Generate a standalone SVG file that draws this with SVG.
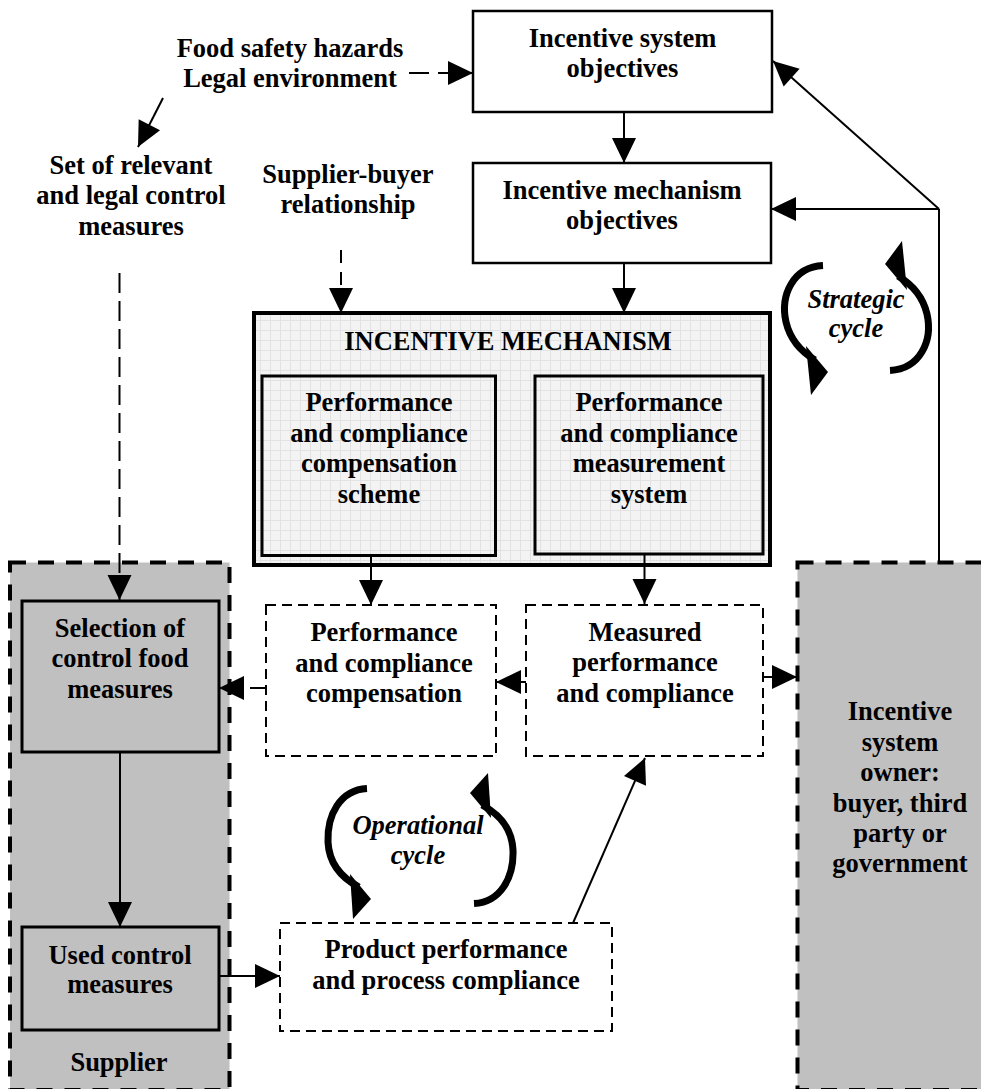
<svg xmlns="http://www.w3.org/2000/svg" width="981" height="1089" viewBox="0 0 981 1089">
  <style>
    text { font-family: "Liberation Serif", "Times New Roman", serif; font-weight: bold; font-size: 26.5px; fill: #000; text-anchor: middle; }
    .it { font-style: italic; }
    .box { fill: #fff; stroke: #000; stroke-width: 2.5; }
    .gray { fill: #c0c0c0; stroke: #000; stroke-width: 3; }
    .inner { fill: none; stroke: #000; stroke-width: 3; }
    .dbox { fill: #fff; stroke: #000; stroke-width: 2; stroke-dasharray: 10 6; }
    .zone { fill: #c0c0c0; stroke: #000; stroke-width: 4; stroke-dasharray: 16 12; }
    .ln { fill: none; stroke: #000; stroke-width: 2; }
    .dash { stroke-dasharray: 20 9; }
    .arr { marker-end: url(#head); }
    .cyc { fill: none; stroke: #000; stroke-width: 7; }
  </style>
  <defs>
    <marker id="head" markerUnits="userSpaceOnUse" markerWidth="26" markerHeight="24" refX="25" refY="12" orient="auto" overflow="visible">
      <path d="M0,0 L25,12 L0,24 Z" fill="#000" stroke="none"/>
    </marker>
    <pattern id="grid" patternUnits="userSpaceOnUse" width="10" height="10">
      <rect width="10" height="10" fill="#f3f3f3"/>
      <path d="M0,0.5 H10 M0.5,0 V10" stroke="#e2e2e2" stroke-width="1"/>
    </pattern>
  </defs>

  <!-- Actor zones -->
  <g id="supplier">
    <rect class="zone" x="10" y="562.5" width="219.5" height="527.5"/>
    <text x="119" y="1071">Supplier</text>
  </g>
  <g id="owner">
    <rect class="zone" x="797.5" y="562.5" width="260" height="527.5"/>
    <text x="900" y="720">Incentive</text>
    <text x="900" y="751">system</text>
    <text x="900" y="781">owner:</text>
    <text x="900" y="812">buyer, third</text>
    <text x="900" y="842">party or</text>
    <text x="900" y="872">government</text>
  </g>

  <!-- External inputs -->
  <g id="hazards">
    <text x="290" y="57">Food safety hazards</text>
    <text x="290" y="87">Legal environment</text>
  </g>
  <g id="control-set">
    <text x="131" y="174">Set of relevant</text>
    <text x="131" y="204">and legal control</text>
    <text x="131" y="235">measures</text>
  </g>
  <g id="relationship">
    <text x="348" y="183">Supplier-buyer</text>
    <text x="348" y="213">relationship</text>
  </g>

  <!-- Objectives -->
  <g id="system-objectives">
    <rect class="box" x="473" y="11" width="299" height="101"/>
    <text x="622.5" y="47">Incentive system</text>
    <text x="622.5" y="77">objectives</text>
  </g>
  <g id="mechanism-objectives">
    <rect class="box" x="473" y="163" width="298" height="100"/>
    <text x="622" y="199">Incentive mechanism</text>
    <text x="622" y="229">objectives</text>
  </g>

  <!-- Incentive mechanism with its two parts -->
  <g id="incentive-mechanism">
    <rect x="254" y="313" width="516" height="252" fill="url(#grid)" stroke="#000" stroke-width="4"/>
    <text x="508" y="350">INCENTIVE MECHANISM</text>
  </g>
  <g id="compensation-scheme">
    <rect class="inner" x="262" y="376" width="233.5" height="179.5"/>
    <text x="379" y="411">Performance</text>
    <text x="379" y="441.5">and compliance</text>
    <text x="379" y="472">compensation</text>
    <text x="379" y="502.5">scheme</text>
  </g>
  <g id="measurement-system">
    <rect class="inner" x="535" y="376" width="228" height="178"/>
    <text x="649" y="411">Performance</text>
    <text x="649" y="441.5">and compliance</text>
    <text x="649" y="472">measurement</text>
    <text x="649" y="502.5">system</text>
  </g>

  <!-- Operational outcomes -->
  <g id="compensation">
    <rect class="dbox" x="266" y="605" width="230" height="151"/>
    <text x="384" y="641">Performance</text>
    <text x="384" y="671.5">and compliance</text>
    <text x="384" y="702">compensation</text>
  </g>
  <g id="measured">
    <rect class="dbox" x="526" y="605" width="237" height="151"/>
    <text x="645" y="641">Measured</text>
    <text x="645" y="671">performance</text>
    <text x="645" y="702">and compliance</text>
  </g>
  <g id="product">
    <rect class="dbox" x="280" y="923" width="332" height="108"/>
    <text x="446" y="958">Product performance</text>
    <text x="446" y="989">and process compliance</text>
  </g>

  <!-- Supplier side -->
  <g id="selection">
    <rect class="gray" x="22" y="601" width="197" height="151"/>
    <text x="120" y="637">Selection of</text>
    <text x="120" y="667">control food</text>
    <text x="120" y="698">measures</text>
  </g>
  <g id="used">
    <rect class="gray" x="22" y="927" width="197" height="103"/>
    <text x="120" y="964">Used control</text>
    <text x="120" y="993">measures</text>
  </g>

  <!-- Cycles -->
  <g id="strategic-cycle">
    <path class="cyc" d="M823,265.5 C793,267 780,295 786,322 C790,339 800,351 815,360"/>
    <polygon points="806,346 828,372 811,395"/>
    <path class="cyc" d="M890,370.5 C920,369 933,341 927,314 C923,297 913,285 898,276"/>
    <polygon points="907,290 885,264 902,241"/>
    <text class="it" x="856" y="308">Strategic</text>
    <text class="it" x="856" y="337">cycle</text>
  </g>
  <g id="operational-cycle">
    <path class="cyc" d="M367,788.5 C340,790 327,815 328,842 C329,862 340,877 359,887"/>
    <polygon points="350,874 371,899 353,919"/>
    <path class="cyc" d="M474,903.5 C501,902 514,877 513,850 C512,830 501,815 482,805"/>
    <polygon points="491,818 470,793 488,773"/>
    <text class="it" x="418" y="834">Operational</text>
    <text class="it" x="418" y="864">cycle</text>
  </g>

  <!-- Connectors -->
  <g id="connectors">
    <path class="ln dash arr" d="M409,73 H473"/>
    <path class="ln arr" d="M163,98 L138,147"/>
    <path class="ln arr" d="M119.5,273 V600" style="stroke-dasharray:20 8"/>
    <path class="ln arr" d="M341,250 V313" style="stroke-dasharray:13 9"/>
    <path class="ln arr" d="M624,112 V163"/>
    <path class="ln arr" d="M624,263 V313"/>
    <path class="ln" d="M939,562 V209"/>
    <path class="ln arr" d="M939,209 H771"/>
    <path class="ln arr" d="M939,209 L773,61"/>
    <path class="ln arr" d="M371,556 V605"/>
    <path class="ln arr" d="M644.5,554 V604"/>
    <path class="ln arr" d="M266,688 H219" style="stroke-dasharray:16 6"/>
    <path class="ln arr" d="M526,682 H496"/>
    <path class="ln arr" d="M763,677 H797"/>
    <path class="ln arr" d="M120,752 V927"/>
    <path class="ln arr" d="M219,976 H280"/>
    <path class="ln arr" d="M573,923 L645,758"/>
  </g>
</svg>
